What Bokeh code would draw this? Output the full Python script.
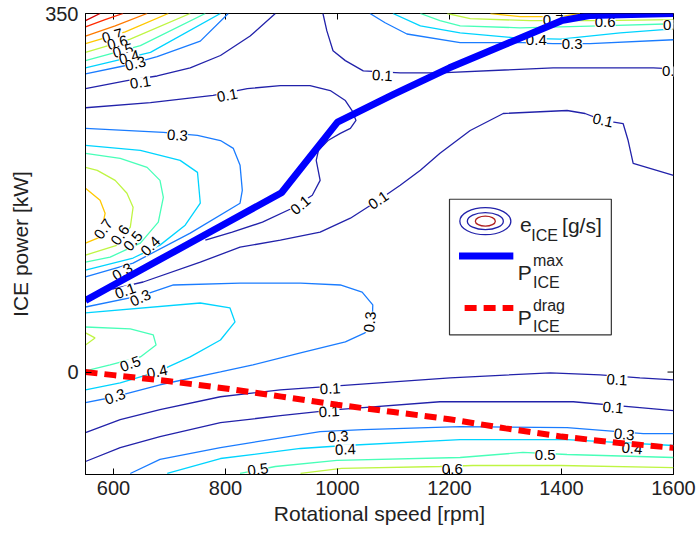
from bokeh.plotting import figure
from bokeh.models import FixedTicker, Range1d
from bokeh.embed import file_html
from bokeh.resources import INLINE
from bokeh.core.properties import value

FONT = "Liberation Sans"

# ---------------- axes ----------------
x_ticks = [600, 800, 1000, 1200, 1400, 1600]
y_ticks = [0, 350]

# ---------------- ICE power limits ----------------
pmax_speed = [550, 600, 700, 800, 900, 1000, 1100, 1200, 1300, 1400, 1450, 1600]
p_max = [70, 85, 115, 145, 175, 244, 271, 297, 320, 343, 348, 350]
drag_speed = [550, 600, 700, 800, 900, 1000, 1100, 1200, 1300, 1400, 1500, 1600]
p_drag = [0, -3, -9, -16, -24, -32, -39, -46, -55, -63, -69, -74]

# ---------------- contour level colours (jet) ----------------
level_colors = {0.1: "#2222aa", 0.3: "#1a7cff", 0.4: "#00d4ff", 0.5: "#48ffb8",
                0.6: "#bff543", 0.7: "#ffc800", 0.8: "#ff7a00", 0.9: "#ff2a00",
                1.0: "#d40000"}

# ---------------- contour lines of e_ICE [g/s] (rpm, kW) ----------------
# top-left corner
tl_100_x = [550, 576];            tl_100_y = [343, 350]
tl_090_x = [550, 585, 617];       tl_090_y = [337, 344, 350]
tl_080_x = [550, 603, 660];       tl_080_y = [328, 338, 350]
tl_070_x = [550, 621, 698];       tl_070_y = [320.5, 332, 350]
tl_060_x = [550, 630, 737];       tl_060_y = [312, 325, 350]
tl_050_x = [550, 648, 764];       tl_050_y = [304, 318.6, 350]
tl_040_x = [550, 666, 791];       tl_040_y = [297, 312, 350]
tl_030_x = [550, 620, 678, 755, 805]
tl_030_y = [291, 299, 308, 323, 350]
ul_010a_x = [550, 624, 678, 737, 791, 844, 889]
ul_010a_y = [276.7, 284.5, 289, 297, 309, 328, 350]
ul_010b_x = [550, 666, 778, 839, 898, 951, 987, 1014, 1026, 1033, 1023, 1005, 983,
             966, 962, 969, 955, 919, 866, 812, 764]
ul_010b_y = [258, 263, 270, 276.7, 279.6, 279.6, 274.8, 265, 255.3, 245.6, 237.8,
             233, 226, 216.4, 206.6, 187.1, 172.6, 159.9, 146.3, 136.6, 128.8]
# dome-shaped 0.1 line in the middle
md_010_x = [1600, 1528, 1519, 1510, 1474, 1442, 1410, 1296, 1237, 1183, 1148, 1112,
            1073, 1023, 969, 898, 826, 755, 653, 598]
md_010_y = [192, 203.7, 226, 242.6, 245.6, 252.4, 255.3, 252.4, 235.8, 213.5, 196.9,
            182.3, 167.7, 150.2, 136.6, 128.8, 121.9, 107.3, 87.9, 81]
# top middle / right
tm_010_x = [974, 981, 992, 1014, 1046, 1112, 1183, 1385, 1564, 1600]
tm_010_y = [350, 333, 313.7, 304, 294, 292, 292, 297, 297, 296]
tr_030_x = [1058, 1085, 1124, 1219, 1331, 1385, 1451, 1600]
tr_030_y = [350, 341, 330, 321.5, 321.5, 320.5, 320.5, 324.4]
tr_040_x = [1099, 1148, 1219, 1321, 1398, 1505, 1600]
tr_040_y = [350, 338, 331, 326, 325, 331, 335]
tr_050_x = [1148, 1183, 1219, 1326, 1469, 1600]
tr_050_y = [350, 343, 338, 336, 338, 340]
tr_060_x = [1196, 1237, 1344, 1469, 1600]
tr_060_y = [350, 345, 343, 343, 344]
tr_070_x = [1273, 1326, 1398, 1433]
tr_070_y = [350, 347, 347, 350]
# left hill (upper)
lh_070_x = [550, 576, 585, 576, 550]
lh_070_y = [179.4, 167.7, 155, 131.7, 125.8]
lh_060_x = [550, 571, 603, 624, 635, 630, 607, 550]
lh_060_y = [199.8, 196.9, 187.1, 174.5, 160.9, 141.4, 123.9, 114.1]
lh_050_x = [550, 612, 660, 683, 689, 680, 648, 594, 550]
lh_050_y = [213.5, 208.6, 199.8, 187.1, 170.6, 146.3, 125.8, 112.2, 107.3]
lh_040_x = [550, 648, 719, 750, 755, 728, 683, 635, 550]
lh_040_y = [221.2, 216.4, 206.6, 194.9, 164.8, 143.4, 123.9, 111.3, 99.5]
lh_030_x = [550, 689, 750, 791, 814, 826, 830, 826, 737, 635, 550]
lh_030_y = [237.8, 233.9, 231, 226, 218.3, 201.8, 177.4, 164.8, 135.6, 106.4, 92.8]
# lower blob
lb_030_x = [550, 653, 707, 826, 934, 1005, 1044, 1063, 1062, 1049, 1014, 934, 849,
            791, 683, 603, 550]
lb_030_y = [63.5, 75.2, 85, 86.9, 86.9, 85, 78.1, 65.5, 48.9, 38.2, 29.4, 18.7, 7,
            0.2, -12.4, -24.1, -29.9]
lb_040_x = [550, 755, 808, 817, 791, 737, 678, 612, 550]
lb_040_y = [57.7, 67.4, 62.6, 48.9, 31.3, 14.8, 0.2, -10.5, -17.3]
lb_050_x = [550, 630, 671, 676, 648, 594, 550]
lb_050_y = [44, 42.1, 36.2, 26.5, 14.8, 7, 1.2]
lb_060_x = [550, 567, 550]
lb_060_y = [38.2, 33.3, 26.5]
# bottom band
bt_010a_x = [550, 612, 683, 791, 898, 999, 1201, 1380, 1469, 1540, 1600]
bt_010a_y = [-59.1, -46.5, -36.7, -24.1, -17.3, -13.4, -5.6, -0.8, -2.7, -5.6, -7.6]
bt_010b_x = [550, 612, 683, 791, 898, 999, 1183, 1421, 1540, 1600]
bt_010b_y = [-87.3, -73.7, -63, -49.4, -42.6, -36.7, -29, -29, -34.8, -37.7]
bt_030_x = [630, 683, 791, 969, 1046, 1219, 1410, 1546, 1600]
bt_030_y = [-99, -85.3, -73.7, -58.1, -56.2, -53.3, -54.2, -60.1, -60.1]
bt_040_x = [696, 791, 934, 1014, 1219, 1410, 1505, 1600]
bt_040_y = [-99, -84.4, -74.6, -71.7, -65.9, -65.9, -68.8, -71.7]
bt_050_x = [826, 889, 999, 1219, 1331, 1410, 1600]
bt_050_y = [-99, -92.2, -86.3, -83.4, -78.5, -80.5, -83.4]
bt_060_x = [934, 1007, 1183, 1242, 1398, 1600]
bt_060_y = [-99, -94.1, -92.2, -91.2, -91.2, -93.2]

contours = [
    (1.0, tl_100_x, tl_100_y), (0.9, tl_090_x, tl_090_y), (0.8, tl_080_x, tl_080_y),
    (0.7, tl_070_x, tl_070_y), (0.6, tl_060_x, tl_060_y), (0.5, tl_050_x, tl_050_y),
    (0.4, tl_040_x, tl_040_y), (0.3, tl_030_x, tl_030_y),
    (0.1, ul_010a_x, ul_010a_y), (0.1, ul_010b_x, ul_010b_y), (0.1, md_010_x, md_010_y),
    (0.1, tm_010_x, tm_010_y), (0.3, tr_030_x, tr_030_y), (0.4, tr_040_x, tr_040_y),
    (0.5, tr_050_x, tr_050_y), (0.6, tr_060_x, tr_060_y), (0.7, tr_070_x, tr_070_y),
    (0.7, lh_070_x, lh_070_y), (0.6, lh_060_x, lh_060_y), (0.5, lh_050_x, lh_050_y),
    (0.4, lh_040_x, lh_040_y), (0.3, lh_030_x, lh_030_y),
    (0.3, lb_030_x, lb_030_y), (0.4, lb_040_x, lb_040_y), (0.5, lb_050_x, lb_050_y),
    (0.6, lb_060_x, lb_060_y),
    (0.1, bt_010a_x, bt_010a_y), (0.1, bt_010b_x, bt_010b_y), (0.3, bt_030_x, bt_030_y),
    (0.4, bt_040_x, bt_040_y), (0.5, bt_050_x, bt_050_y), (0.6, bt_060_x, bt_060_y),
]

# ---------------- contour labels ----------------
label_x = [598, 607, 617, 628, 639, 648, 803, 714, 934, 1073, 1474, 1080, 1598,
           1419, 1355, 1385, 1478, 1600, 582, 612, 635, 666, 616, 621, 648,
           630, 678, 603, 1058, 987, 985, 1001, 1014, 858, 1205, 1499, 1492, 1512,
           1526, 1371]
label_y = [328, 321.5, 313.7, 307, 301, 282.6, 270, 231, 162.8, 167.7, 245.6, 289.4,
           293.4, 320.5, 324, 344, 342, 339, 139.5, 133.6, 127.8, 122.9, 97.6, 79.1,
           72.3, 7.9, 0.2, -24.1, 48.9, -16.3, -38.7, -63, -75.6, -95.1, -95.1, -7.6,
           -34.8, -61, -74.6, -81.4]
label_text = ["0.7", "0.6", "0.5", "0.4", "0.3", "0.1", "0.1", "0.3", "0.1", "0.1",
              "0.1", "0.1", "0.1", "0.3", "0.4", "0.7", "0.6", "0.5", "0.7", "0.6",
              "0.5", "0.4", "0.3", "0.1", "0.3", "0.5", "0.4", "0.3", "0.3", "0.1",
              "0.1", "0.3", "0.4", "0.5", "0.6", "0.1", "0.1", "0.3", "0.4", "0.5"]
label_angle = [15, 15, 15, 15, 15, 9, 11, -3, 40, 35, -13, -3, 0, 0, 0, 0, 0, 0,
               55, 55, 50, 45, 30, 20, 25, 20, 12, 20, 85, 3, 3, 3, 3, 8, 0, -3,
               -5, -5, -5, 0]

# ---------------- figure ----------------
X0, X1, Y0, Y1 = 550, 1600, -100, 350
p = figure(width=696, height=534, x_range=Range1d(X0, X1), y_range=Range1d(Y0, Y1),
           output_backend="svg", toolbar_location=None,
           min_border_left=85, min_border_right=23, min_border_top=13, min_border_bottom=60)
p.xgrid.visible = False
p.ygrid.visible = False
p.outline_line_color = "black"
p.background_fill_color = "white"
p.border_fill_color = "white"

for ax, ticks in ((p.xaxis[0], x_ticks), (p.yaxis[0], y_ticks)):
    ax.ticker = FixedTicker(ticks=ticks)
    ax.major_tick_in = 6
    ax.major_tick_out = 0
    ax.minor_tick_line_color = None
    ax.axis_line_color = "black"
    ax.major_tick_line_color = "black"
    ax.major_label_text_font = FONT
    ax.major_label_text_font_size = "20px"
    ax.major_label_text_color = "#222222"
    ax.axis_label_text_font = FONT
    ax.axis_label_text_font_size = "21px"
    ax.axis_label_text_font_style = "normal"
    ax.axis_label_text_color = "#222222"

p.xaxis.axis_label = "Rotational speed [rpm]"
p.yaxis.axis_label = "ICE power [kW]"
p.xaxis.major_label_standoff = 6
p.yaxis.major_label_standoff = 7
p.xaxis.axis_label_standoff = 4
p.yaxis.axis_label_standoff = 10

# tick marks on the top and right sides of the box (6 px inward)
tick_dy = 6 * (Y1 - Y0) / 461.0
tick_dx = 6 * (X1 - X0) / 588.0
p.segment(x0=x_ticks, y0=[Y1] * len(x_ticks), x1=x_ticks, y1=[Y1 - tick_dy] * len(x_ticks),
          line_color="black", line_width=1)
p.segment(x0=[X1] * len(y_ticks), y0=y_ticks, x1=[X1 - tick_dx] * len(y_ticks), y1=y_ticks,
          line_color="black", line_width=1)

# contour lines
p.multi_line(xs=[c[1] for c in contours], ys=[c[2] for c in contours],
             line_color=[level_colors[c[0]] for c in contours], line_width=1.3)

# contour labels (inline, white background breaks the line)
p.text(x=label_x, y=label_y, text=label_text, angle=label_angle, angle_units="deg",
       text_font=value(FONT), text_font_size="15px", text_color="black",
       text_align="center", text_baseline="middle",
       background_fill_color="white")

# power limits
p.line(pmax_speed, p_max, line_color="#0000ff", line_width=7)
p.line(drag_speed, p_drag, line_color="#ff0000", line_width=6, line_dash="12 7")

# ---------------- legend (drawn manually) ----------------
p.quad(left=[1200], right=[1489], bottom=[36.3], top=[168.7],
       fill_color="white", line_color="#333333", line_width=1.2)
p.ellipse(x=[1264, 1264, 1264], y=[147.3, 147.3, 147.3], width=[51, 36, 20],
          height=[27, 17, 10], width_units="screen", height_units="screen",
          fill_color=None, line_color=["#2222aa", "#2222aa", "#b02020"], line_width=1.3)
p.line([1217, 1314], [113.2, 113.2], line_color="#0000ff", line_width=7)
p.line([1227, 1314], [62.6, 62.6], line_color="#ff0000", line_width=6, line_dash="12 7")

big = dict(text_font=value(FONT), text_font_size="21px", text_color="#222222",
           text_align="left", text_baseline="alphabetic")
small = dict(text_font=value(FONT), text_font_size="16px", text_color="#222222",
             text_align="left", text_baseline="alphabetic")
p.text(x=[1326, 1401, 1322, 1322], y=[143.2, 143.2, 97.6, 52.9],
       text=["e", "[g/s]", "P", "P"], **big)
p.text(x=[1346, 1349, 1349, 1349, 1349], y=[133.5, 109, 87.9, 65.3, 44],
       text=["ICE", "max", "ICE", "drag", "ICE"], **small)

open("out.html", "w").write(file_html(p, INLINE))
